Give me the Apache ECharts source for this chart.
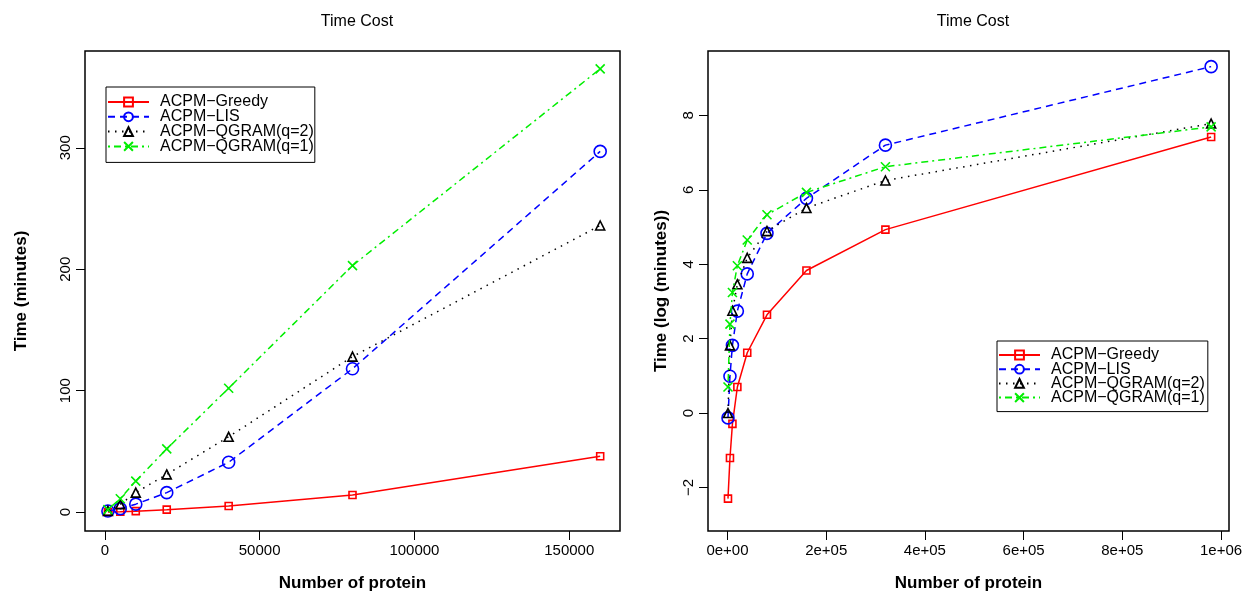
<!DOCTYPE html>
<html><head><meta charset="utf-8">
<script src="https://cdn.jsdelivr.net/npm/echarts@6.0.0/dist/echarts.min.js"></script>
<style>html,body{margin:0;padding:0;background:#fff}#c{width:1252px;height:597px}</style>
</head><body><div id="c"></div>
<script>
// ---- data ----
const seriesNames = ['ACPM\u2212Greedy', 'ACPM\u2212LIS', 'ACPM\u2212QGRAM(q=2)', 'ACPM\u2212QGRAM(q=1)'];
const sizesLeft = [1000, 5000, 10000, 20000, 40000, 80000, 160000];
const sizesRight = [1000, 5000, 10000, 20000, 40000, 80000, 160000, 320000, 980000];
// left panel: minutes
const greedyMin = [0.1, 0.3, 0.75, 2.0, 5.0, 14, 46];
const lisMin = [0.9, 2.8, 6.5, 16, 41, 118, 297];
const q2Min = [1.0, 6.4, 16, 31, 62, 128, 236];
const q1Min = [2.0, 11, 25.5, 52, 102, 203, 365];
// right panel: log(minutes)
const greedyLog = [-2.30, -1.21, -0.29, 0.70, 1.62, 2.64, 3.83, 4.93, 7.42];
const lisLog = [-0.13, 0.99, 1.82, 2.74, 3.74, 4.83, 5.77, 7.20, 9.31];
const q2Log = [0.0, 1.82, 2.75, 3.46, 4.17, 4.89, 5.51, 6.25, 7.78];
const q1Log = [0.70, 2.39, 3.24, 3.96, 4.65, 5.33, 5.93, 6.62, 7.69];
// tick labels
const xTicksLeft = [0, 50000, 100000, 150000];
const yTicksLeft = [0, 100, 200, 300];
const xTicksRight = [0, 200000, 400000, 600000, 800000, 1000000];
const xTickLabelsRight = ['0e+00', '2e+05', '4e+05', '6e+05', '8e+05', '1e+06'];
const yTicksRight = [-2, 0, 2, 4, 6, 8];

const FONT = "'Liberation Sans', Arial, Helvetica, sans-serif";
const styles = [
  {color: '#ff0000', type: 'solid', symbol: 'rect', size: 7},
  {color: '#0000ff', type: [7, 5], symbol: 'circle', size: 12},
  {color: '#000000', type: [1.5, 5.5], symbol: 'triangle', size: 9},
  {color: '#00ee00', type: [2, 4, 7, 4], symbol: 'path://M0,0L10,10M10,0L0,10', size: 9}
];
const leftData = [greedyMin, lisMin, q2Min, q1Min];
const rightData = [greedyLog, lisLog, q2Log, q1Log];

function mkSeries(idx, sizes, vals, axis) {
  const s = styles[idx];
  return {
    name: seriesNames[idx], type: 'line', xAxisIndex: axis, yAxisIndex: axis,
    data: sizes.map((x, i) => [x, vals[i]]),
    symbol: s.symbol, symbolSize: s.size, showAllSymbol: true,
    lineStyle: {color: s.color, width: 1.5, type: s.type},
    itemStyle: {color: 'rgba(0,0,0,0)', borderColor: s.color, borderWidth: 1.6},
    emphasis: {disabled: true}, animation: false, z: 3 + idx
  };
}
const series = [];
for (let i = 0; i < 4; i++) series.push(mkSeries(i, sizesLeft, leftData[i], 0));
for (let i = 0; i < 4; i++) series.push(mkSeries(i, sizesRight, rightData[i], 1));

const minus = v => String(v).replace('-', '\u2212');
function xAxisCfg(grid, min, max, ticks, fmt) {
  return {
    type: 'value', gridIndex: grid, min: min, max: max, position: 'bottom',
    splitLine: {show: false}, axisLine: {show: false, onZero: false},
    axisTick: {show: true, inside: false, length: 9, customValues: ticks, lineStyle: {color: '#000', width: 1}},
    axisLabel: {customValues: ticks, formatter: fmt, fontSize: 15, color: '#000', fontFamily: FONT, margin: 12},
    name: 'Number of protein', nameLocation: 'middle', nameGap: 44,
    nameTextStyle: {fontSize: 17, fontWeight: 'bold', color: '#000', fontFamily: FONT}
  };
}
function yAxisCfg(grid, min, max, ticks, name, gap) {
  return {
    type: 'value', gridIndex: grid, min: min, max: max, position: 'left',
    splitLine: {show: false}, axisLine: {show: false, onZero: false},
    axisTick: {show: true, inside: false, length: 9, customValues: ticks, lineStyle: {color: '#000', width: 1}},
    axisLabel: {customValues: ticks, formatter: minus, rotate: 90, fontSize: 15, color: '#000', fontFamily: FONT, margin: 12},
    name: name, nameLocation: 'middle', nameGap: gap, nameRotate: 90,
    nameTextStyle: {fontSize: 17, fontWeight: 'bold', color: '#000', fontFamily: FONT}
  };
}
function legendCfg(left, top, gap, pad) {
  return {
    orient: 'vertical', left: left, top: top, data: seriesNames,
    itemWidth: 41, itemHeight: 11, itemGap: gap,
    borderColor: '#000', borderWidth: 1, padding: pad, backgroundColor: '#fff',
    textStyle: {fontSize: 16, lineHeight: 14.5, color: '#000', fontFamily: FONT, padding: [0, 0, 0, 6]},
    selectedMode: false
  };
}

const option = {
  animation: false,
  backgroundColor: '#fff',
  title: [
    {text: 'Time Cost', left: 352, top: 9, textAlign: 'center', textStyle: {fontSize: 16, fontWeight: 'normal', color: '#000', fontFamily: FONT}},
    {text: 'Time Cost', left: 968, top: 9, textAlign: 'center', textStyle: {fontSize: 16, fontWeight: 'normal', color: '#000', fontFamily: FONT}}
  ],
  grid: [
    {left: 85, top: 51, width: 535, height: 481, show: true, borderColor: '#000', borderWidth: 1.5, backgroundColor: 'transparent'},
    {left: 708, top: 51, width: 521, height: 484, show: true, borderColor: '#000', borderWidth: 1.5, backgroundColor: 'transparent'}
  ],
  xAxis: [
    xAxisCfg(0, -6400, 166400, xTicksLeft, v => String(v)),
    xAxisCfg(1, -39500, 1016200, xTicksRight, v => xTickLabelsRight[xTicksRight.indexOf(v)])
  ],
  yAxis: [
    yAxisCfg(0, -15.6, 379.7, yTicksLeft, 'Time (minutes)', 55),
    yAxisCfg(1, -3.17, 9.73, yTicksRight, 'Time (log (minutes))', 38)
  ],
  legend: [legendCfg(106, 87, -1.2, [7, 1, 8, 1]), legendCfg(997, 341, -1.8, [6, 3, 6, 1])],
  series: series
};
const chart = echarts.init(document.getElementById('c'), null, {renderer: 'canvas'});
chart.setOption(option);
</script></body></html>
